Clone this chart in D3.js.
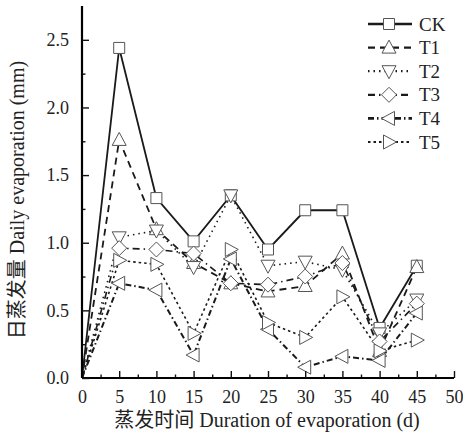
<!DOCTYPE html>
<html>
<head>
<meta charset="utf-8">
<script src="https://cdn.jsdelivr.net/npm/d3@7"></script>
<style>
  body { margin: 0; background: #fff; }
  text { font-family: "Liberation Serif", "Times New Roman", serif; fill: #222; }
</style>
</head>
<body>
<div id="chart"></div>
<script>
// days of evaporation
var days = [0, 5, 10, 15, 20, 25, 30, 35, 40, 45];
var ck = [0, 2.44, 1.33, 1.01, 1.35, 0.95, 1.24, 1.24, 0.37, 0.83];
var t1 = [0, 1.76, 1.10, 0.85, 0.70, 0.64, 0.68, 0.92, 0.20, 0.82];
var t2 = [0, 1.04, 1.09, 0.82, 1.35, 0.83, 0.86, 0.80, 0.33, 0.58];
var t3 = [0, 0.96, 0.95, 0.92, 0.70, 0.69, 0.75, 0.85, 0.27, 0.55];
var t4 = [0, 0.70, 0.65, 0.17, 0.88, 0.36, 0.08, 0.16, 0.13, 0.48];
var t5 = [0, 0.87, 0.84, 0.33, 0.95, 0.41, 0.30, 0.60, 0.20, 0.28];
var xTicks = [0, 5, 10, 15, 20, 25, 30, 35, 40, 45, 50];
var yTicks = [0, 0.5, 1.0, 1.5, 2.0, 2.5];

var series = [
  { name: "CK", values: ck, dash: null, marker: "square", lw: 1.8 },
  { name: "T1", values: t1, dash: "7,5", marker: "up", lw: 1.8 },
  { name: "T2", values: t2, dash: "1.5,4", marker: "down", lw: 1.6 },
  { name: "T3", values: t3, dash: "7,4,1.5,4", marker: "diamond", lw: 1.6 },
  { name: "T4", values: t4, dash: "6,3,1.5,3", marker: "left", lw: 2 },
  { name: "T5", values: t5, dash: "2.5,3", marker: "right", lw: 1.6 }
];

var width = 463, height = 436;
var svg = d3.select("#chart").append("svg")
  .attr("width", width).attr("height", height);

var x = d3.scaleLinear().domain([0, 50]).range([82, 454]);
var y = d3.scaleLinear().domain([0, 2.75]).range([378, 6]);

// markers
function markerPath(type) {
  if (type == "square") return "M-5.5,-5.5H5.5V5.5H-5.5Z";
  if (type == "diamond") return "M0,-7.5L7.5,0L0,7.5L-7.5,0Z";
  if (type == "up") return "M0,-7.5L7,5.5L-7,5.5Z";
  if (type == "down") return "M0,7.5L7,-5.5L-7,-5.5Z";
  if (type == "left") return "M-7.5,0L5.5,-7L5.5,7Z";
  if (type == "right") return "M7.5,0L-5.5,-7L-5.5,7Z";
  return "";
}

var line = d3.line()
  .x(function (d, i) { return x(days[i]); })
  .y(function (d) { return y(d); });

var plot = svg.append("g");
series.forEach(function (s) {
  plot.append("path")
    .attr("d", line(s.values))
    .attr("fill", "none")
    .attr("stroke", "#1a1a1a")
    .attr("stroke-width", s.lw)
    .attr("stroke-dasharray", s.dash);
});
series.forEach(function (s) {
  plot.selectAll(null)
    .data(s.values.slice(1))
    .enter()
    .append("path")
    .attr("d", markerPath(s.marker))
    .attr("transform", function (d, i) { return "translate(" + x(days[i + 1]) + "," + y(d) + ")"; })
    .attr("fill", "#fff")
    .attr("stroke", "#555")
    .attr("stroke-width", 1);
});

// axes (ticks point inward)
var xMinor = d3.range(2.5, 50, 5);
var yMinor = d3.range(0.25, 2.75, 0.5);

svg.append("g")
  .attr("transform", "translate(0,378)")
  .call(d3.axisBottom(x).tickValues(xMinor).tickSize(-3.5).tickFormat(""))
  .call(function (g) { g.select(".domain").remove(); });
var xAxis = svg.append("g")
  .attr("transform", "translate(0,378)")
  .call(d3.axisBottom(x).tickValues(xTicks).tickSize(-7).tickSizeOuter(0).tickPadding(12).tickFormat(d3.format("d")));
xAxis.select(".domain").attr("stroke-width", 2.2).attr("d", "M82,0H454");

svg.append("g")
  .attr("transform", "translate(82,0)")
  .call(d3.axisLeft(y).tickValues(yMinor).tickSize(-3.5).tickFormat(""))
  .call(function (g) { g.select(".domain").remove(); });
var yAxis = svg.append("g")
  .attr("transform", "translate(82,0)")
  .call(d3.axisLeft(y).tickValues(yTicks).tickSize(-7).tickSizeOuter(0).tickPadding(13).tickFormat(d3.format(".1f")));
yAxis.select(".domain").attr("stroke-width", 2.2).attr("d", "M0,6V378");

svg.selectAll(".tick line").attr("stroke", "#111").attr("stroke-width", 1.4);
svg.selectAll(".tick text").style("font-size", "18px").attr("fill", "#222")
  .style("font-family", "'Liberation Serif', serif");

// axis titles
svg.append("text")
  .attr("x", 267).attr("y", 427)
  .attr("text-anchor", "middle")
  .style("font-family", "'Liberation Serif', 'Noto Sans CJK SC', serif")
  .style("font-size", "20px")
  .style("font-weight", "normal")
  .text("蒸发时间 Duration of evaporation (d)");

svg.append("text")
  .attr("transform", "translate(24,200)rotate(-90)")
  .attr("text-anchor", "middle")
  .style("font-family", "'Liberation Serif', 'Noto Sans CJK SC', serif")
  .style("font-size", "20px")
  .style("font-weight", "normal")
  .text("日蒸发量 Daily evaporation (mm)");

// legend
var legend = svg.append("g");
series.forEach(function (s, i) {
  var ly = 24 + i * 23.6;
  legend.append("line")
    .attr("x1", 368).attr("x2", 412)
    .attr("y1", ly).attr("y2", ly)
    .attr("stroke", "#1a1a1a")
    .attr("stroke-width", s.lw + 0.6)
    .attr("stroke-dasharray", s.dash);
  legend.append("path")
    .attr("d", markerPath(s.marker))
    .attr("transform", "translate(389," + ly + ")")
    .attr("fill", "#fff")
    .attr("stroke", "#555");
  legend.append("text")
    .attr("x", 419).attr("y", ly + 6.5)
    .style("font-size", "19px")
    .text(s.name);
});
</script>
</body>
</html>
